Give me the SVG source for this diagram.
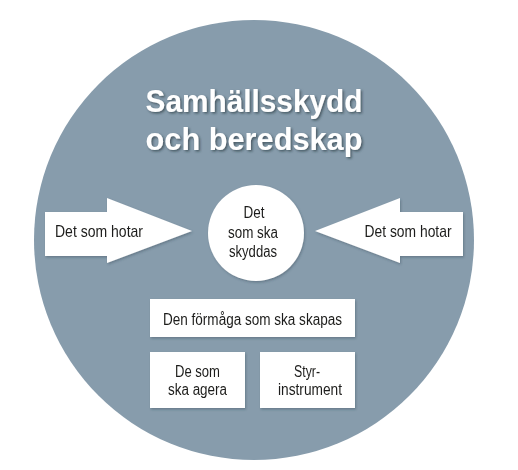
<svg xmlns="http://www.w3.org/2000/svg" width="518" height="470" viewBox="0 0 518 470">
  <defs>
    <filter id="sh" x="-20%" y="-20%" width="140%" height="140%">
      <feDropShadow dx="1" dy="1.5" stdDeviation="1.2" flood-color="#2a3a48" flood-opacity="0.35"/>
    </filter>
    <filter id="tsh" x="-10%" y="-20%" width="120%" height="140%">
      <feDropShadow dx="1.5" dy="1.5" stdDeviation="1.2" flood-color="#1e2a35" flood-opacity="0.6"/>
    </filter>
  </defs>
  <style>
    .w { fill: #ffffff; }
    .t { font-family: "Liberation Sans", Arial, sans-serif; fill: #1d1d1b; text-anchor: middle; }
    .title { font-family: "Liberation Sans", Arial, sans-serif; font-weight: bold; fill: #ffffff; text-anchor: middle; font-size: 32px; }
  </style>
  <rect x="0" y="0" width="518" height="470" fill="#ffffff"/>
  <g id="background">
    <circle cx="254" cy="240" r="220" fill="#879cac"/>
  </g>
  <g id="title" filter="url(#tsh)">
    <text class="title" x="254" y="112" textLength="217" lengthAdjust="spacingAndGlyphs">Samhällsskydd</text>
    <text class="title" x="254" y="150" textLength="217" lengthAdjust="spacingAndGlyphs">och beredskap</text>
  </g>
  <g id="connectors">
    <g id="arrow-left" filter="url(#sh)">
      <polygon class="w" points="45,212 107,212 107,198 192,231 107,263 107,256 45,256"/>
      <text class="t" x="99" y="237" font-size="17" textLength="88" lengthAdjust="spacingAndGlyphs">Det som hotar</text>
    </g>
    <g id="arrow-right" filter="url(#sh)">
      <polygon class="w" points="463,212 400,212 400,198 315,231 400,263 400,256 463,256"/>
      <text class="t" x="408" y="237" font-size="17" textLength="87" lengthAdjust="spacingAndGlyphs">Det som hotar</text>
    </g>
  </g>
  <g id="node-center" filter="url(#sh)">
    <circle class="w" cx="256" cy="233" r="48"/>
    <text class="t" x="254" y="218" font-size="16" textLength="21" lengthAdjust="spacingAndGlyphs">Det</text>
    <text class="t" x="253" y="238" font-size="16" textLength="50" lengthAdjust="spacingAndGlyphs">som ska</text>
    <text class="t" x="253" y="257" font-size="16" textLength="48" lengthAdjust="spacingAndGlyphs">skyddas</text>
  </g>
  <g id="node-formaga" filter="url(#sh)">
    <rect class="w" x="150" y="299" width="205" height="38"/>
    <text class="t" x="252.5" y="325" font-size="16" textLength="179" lengthAdjust="spacingAndGlyphs">Den förmåga som ska skapas</text>
  </g>
  <g id="node-agera" filter="url(#sh)">
    <rect class="w" x="150" y="352" width="95" height="56"/>
    <text class="t" x="197.5" y="377" font-size="16" textLength="45" lengthAdjust="spacingAndGlyphs">De som</text>
    <text class="t" x="197.5" y="395" font-size="16" textLength="59" lengthAdjust="spacingAndGlyphs">ska agera</text>
  </g>
  <g id="node-styr" filter="url(#sh)">
    <rect class="w" x="260" y="352" width="95" height="56"/>
    <text class="t" x="307" y="377" font-size="16" textLength="26" lengthAdjust="spacingAndGlyphs">Styr-</text>
    <text class="t" x="310" y="395" font-size="16" textLength="64" lengthAdjust="spacingAndGlyphs">instrument</text>
  </g>
</svg>
